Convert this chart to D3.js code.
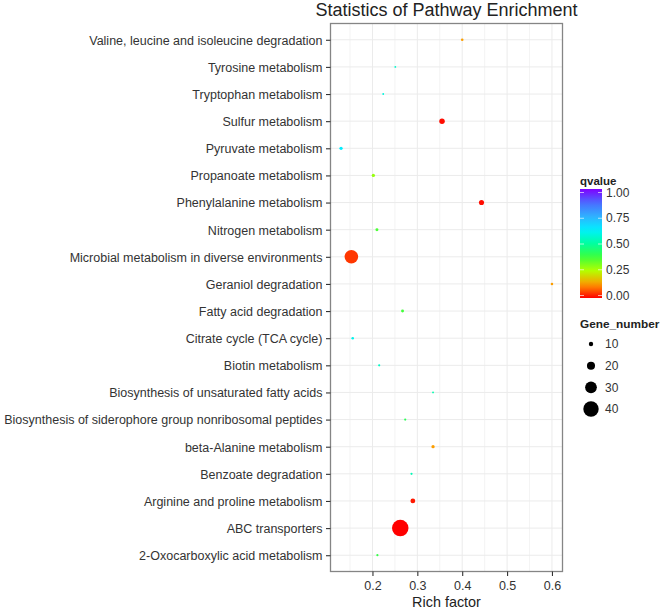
<!DOCTYPE html>
<html>
<head>
<meta charset="utf-8">
<script src="https://cdn.jsdelivr.net/npm/d3@7"></script>
<style>
  body { margin: 0; background: #fff; }
  svg { font-family: "Liberation Sans", Arial, sans-serif; }
</style>
</head>
<body>
<svg id="chart" width="663" height="608"></svg>
<script>
// pathways listed top to bottom as in the figure
const pathways = [
  "Valine, leucine and isoleucine degradation",
  "Tyrosine metabolism",
  "Tryptophan metabolism",
  "Sulfur metabolism",
  "Pyruvate metabolism",
  "Propanoate metabolism",
  "Phenylalanine metabolism",
  "Nitrogen metabolism",
  "Microbial metabolism in diverse environments",
  "Geraniol degradation",
  "Fatty acid degradation",
  "Citrate cycle (TCA cycle)",
  "Biotin metabolism",
  "Biosynthesis of unsaturated fatty acids",
  "Biosynthesis of siderophore group nonribosomal peptides",
  "beta-Alanine metabolism",
  "Benzoate degradation",
  "Arginine and proline metabolism",
  "ABC transporters",
  "2-Oxocarboxylic acid metabolism"
];
const richFactor = [0.40, 0.251, 0.224, 0.355, 0.13, 0.202, 0.443, 0.21, 0.153, 0.60,
                    0.267, 0.156, 0.215, 0.335, 0.273, 0.335, 0.287, 0.29, 0.262, 0.211];
const qvalue = [0.13, 0.56, 0.58, 0.01, 0.63, 0.28, 0.01, 0.36, 0.045, 0.13,
                0.37, 0.6, 0.55, 0.52, 0.41, 0.13, 0.53, 0.02, 0.0, 0.39];
const geneNumber = [5, 3, 3, 13, 7, 7, 12, 6, 35, 5,
                    6, 5, 4, 3, 4, 7, 4, 11, 43, 4];
const xTicks = [0.2, 0.3, 0.4, 0.5, 0.6];
const xMinor = [0.15, 0.25, 0.35, 0.45, 0.55];
const qTicks = [0, 0.25, 0.5, 0.75, 1];
const sizeBreaks = [10, 20, 30, 40];
const qStops = [0, 0.125, 0.25, 0.375, 0.5, 0.625, 0.75, 0.875, 1];
const qColours = ["#ff0000", "#ff9a00", "#b4ff00", "#3cff3c", "#00ffa0",
                  "#00f0ff", "#30b0ff", "#4a6bff", "#8000ff"];

const svg = d3.select("#chart");
const panel = { left: 330.5, right: 562.5, top: 23.5, bottom: 571.5 };

// ggplot-like 5% expansion around data range
const xExtent = d3.extent(richFactor);
const pad = (xExtent[1] - xExtent[0]) * 0.05;
const x = d3.scaleLinear()
  .domain([xExtent[0] - pad, xExtent[1] + pad])
  .range([panel.left, panel.right]);

const y = d3.scalePoint()
  .domain(pathways)
  .range([panel.top, panel.bottom])
  .padding(0.6);

const color = d3.scaleLinear().domain(qStops).range(qColours).clamp(true);
const radius = d3.scaleLinear().domain([10, 40]).range([2.2, 7.7]);

// grid
const grid = svg.append("g");
grid.selectAll("line.minor")
  .data(xMinor)
  .join("line")
  .attr("x1", (d) => x(d)).attr("x2", (d) => x(d))
  .attr("y1", panel.top).attr("y2", panel.bottom)
  .attr("stroke", "#f0f0f0").attr("stroke-width", 0.8);
grid.selectAll("line.vmajor")
  .data(xTicks)
  .join("line")
  .attr("x1", (d) => x(d)).attr("x2", (d) => x(d))
  .attr("y1", panel.top).attr("y2", panel.bottom)
  .attr("stroke", "#ebebeb").attr("stroke-width", 1);
grid.selectAll("line.hmajor")
  .data(pathways)
  .join("line")
  .attr("x1", panel.left).attr("x2", panel.right)
  .attr("y1", (d) => y(d)).attr("y2", (d) => y(d))
  .attr("stroke", "#ebebeb").attr("stroke-width", 1);

// points
const rows = pathways.map((p, i) => ({ name: p, x: richFactor[i], q: qvalue[i], n: geneNumber[i] }));
svg.append("g")
  .selectAll("circle")
  .data(rows)
  .join("circle")
  .attr("cx", (d) => x(d.x))
  .attr("cy", (d) => y(d.name))
  .attr("r", (d) => radius(d.n))
  .attr("fill", (d) => color(d.q));

// panel border
svg.append("rect")
  .attr("x", panel.left).attr("y", panel.top)
  .attr("width", panel.right - panel.left).attr("height", panel.bottom - panel.top)
  .attr("fill", "none").attr("stroke", "#858585").attr("stroke-width", 1.3);

// axes
const yAxis = svg.append("g")
  .attr("transform", `translate(${panel.left},0)`)
  .call(d3.axisLeft(y).tickSize(4.5).tickPadding(3.5));
const xAxis = svg.append("g")
  .attr("transform", `translate(0,${panel.bottom})`)
  .call(d3.axisBottom(x).tickValues(xTicks).tickSize(4.5).tickPadding(5).tickFormat(d3.format(".1f")));
[yAxis, xAxis].forEach((a) => {
  a.select(".domain").remove();
  a.selectAll(".tick line").attr("stroke", "#333").attr("stroke-width", 1.1);
  a.selectAll(".tick text").attr("fill", "#333").style("font-size", "12.5px");
});
yAxis.selectAll(".tick text").attr("dy", "0.35em");
xAxis.selectAll(".tick text").attr("dy", "0.72em");

svg.append("text")
  .attr("x", (panel.left + panel.right) / 2).attr("y", 16)
  .attr("text-anchor", "middle")
  .attr("fill", "#222")
  .style("font-size", "18px")
  .text("Statistics of Pathway Enrichment");

svg.append("text")
  .attr("x", (panel.left + panel.right) / 2).attr("y", 606.5)
  .attr("text-anchor", "middle")
  .attr("fill", "#222")
  .style("font-size", "14.4px")
  .text("Rich factor");

// colour legend
const legend = svg.append("g");
legend.append("text")
  .attr("x", 580).attr("y", 185)
  .attr("fill", "#222")
  .style("font-size", "11.5px").style("font-weight", "bold")
  .text("qvalue");

const grad = svg.append("defs").append("linearGradient")
  .attr("id", "qgrad").attr("x1", 0).attr("y1", 1).attr("x2", 0).attr("y2", 0);
grad.selectAll("stop")
  .data(d3.range(0, 1.0001, 0.05))
  .join("stop")
  .attr("offset", (d) => d)
  .attr("stop-color", (d) => color(d));

const barTop = 189, barBottom = 298, barX = 580, barW = 22;
const qScale = d3.scaleLinear().domain([0, 1]).range([barBottom - 2.5, barTop + 3.5]);
legend.append("rect")
  .attr("x", barX).attr("y", barTop)
  .attr("width", barW).attr("height", barBottom - barTop)
  .attr("fill", "url(#qgrad)");
legend.selectAll("g.qtick")
  .data(qTicks)
  .join("g")
  .each(function (d) {
    const g = d3.select(this);
    g.append("line")
      .attr("x1", barX).attr("x2", barX + 4)
      .attr("y1", qScale(d)).attr("y2", qScale(d))
      .attr("stroke", "#fff").attr("stroke-width", 0.8).attr("opacity", 0.8);
    g.append("line")
      .attr("x1", barX + barW - 4).attr("x2", barX + barW)
      .attr("y1", qScale(d)).attr("y2", qScale(d))
      .attr("stroke", "#fff").attr("stroke-width", 0.8).attr("opacity", 0.8);
  });
legend.selectAll("text.qlab")
  .data(qTicks)
  .join("text")
  .attr("x", 606).attr("y", (d) => qScale(d))
  .attr("dy", "0.35em")
  .attr("fill", "#333")
  .style("font-size", "12px")
  .text((d) => d3.format(".2f")(d));

// size legend
legend.append("text")
  .attr("x", 580).attr("y", 328)
  .attr("fill", "#222")
  .style("font-size", "11.8px").style("font-weight", "bold")
  .text("Gene_number");

const sizeY = d3.scalePoint().domain(sizeBreaks).range([344, 409]);
legend.selectAll("circle.size")
  .data(sizeBreaks)
  .join("circle")
  .attr("cx", 591).attr("cy", (d) => sizeY(d))
  .attr("r", (d) => radius(d))
  .attr("fill", "#000");
legend.selectAll("text.size")
  .data(sizeBreaks)
  .join("text")
  .attr("x", 605).attr("y", (d) => sizeY(d))
  .attr("dy", "0.35em")
  .attr("fill", "#333")
  .style("font-size", "12px")
  .text((d) => d);
</script>
</body>
</html>
